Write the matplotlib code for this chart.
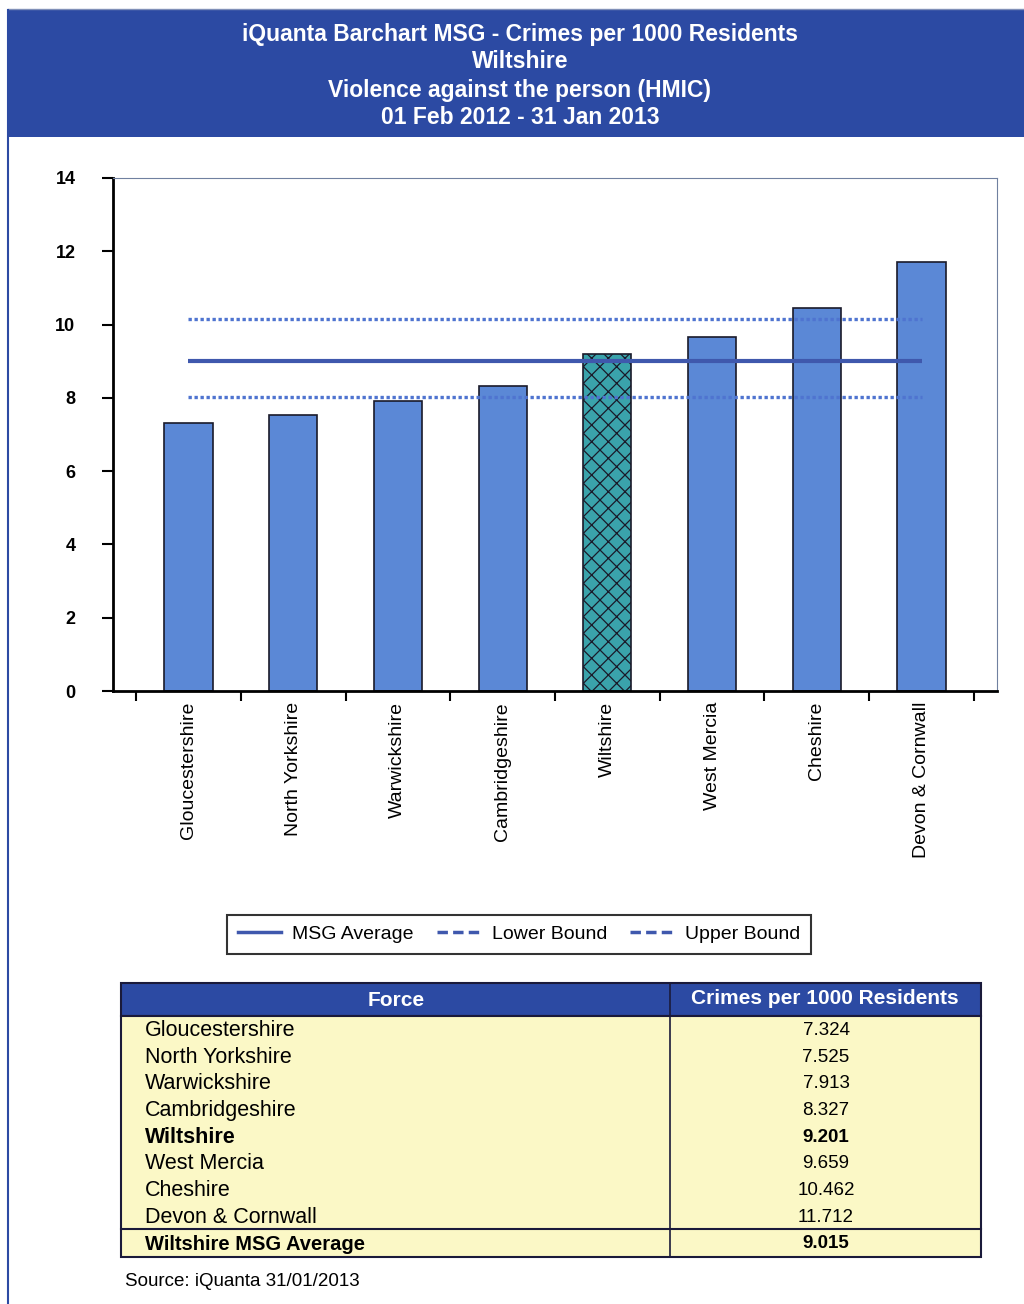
import matplotlib.pyplot as plt
from matplotlib.patches import Rectangle
from matplotlib.lines import Line2D

# Data
forces = ['Gloucestershire', 'North Yorkshire', 'Warwickshire', 'Cambridgeshire',
          'Wiltshire', 'West Mercia', 'Cheshire', 'Devon & Cornwall']
rates = [7.324, 7.525, 7.913, 8.327, 9.201, 9.659, 10.462, 11.712]
msg_average = 9.015
lower_bound = 8.03
upper_bound = 10.15
highlight = 'Wiltshire'
title_lines = ['iQuanta Barchart MSG - Crimes per 1000 Residents', 'Wiltshire',
               'Violence against the person (HMIC)', '01 Feb 2012 - 31 Jan 2013']
y_ticks = [0, 2, 4, 6, 8, 10, 12, 14]

plt.rcParams['font.family'] = ['Liberation Sans', 'DejaVu Sans']
plt.rcParams['hatch.linewidth'] = 0.9

W, H = 1024, 1304
fig = plt.figure(figsize=(W / 100, H / 100), dpi=100)

# overlay axes in pixel coordinates for decorations and the table
deco = fig.add_axes([0, 0, 1, 1])
deco.set_xlim(0, W)
deco.set_ylim(H, 0)
deco.axis('off')

# header band
deco.add_patch(Rectangle((8, 10), W - 8, 127, facecolor='#2c4aa3', edgecolor='none'))
deco.plot([8, W], [9, 9], color='#8090b8', lw=1)
deco.plot([8, 8], [10, H], color='#2c4aa3', lw=1.5)
for i, line in enumerate(title_lines):
    deco.text(520, 34 + i * 28, line, color='white', fontsize=16.5, fontweight='bold',
              ha='center', va='center')

# bar chart
ax = fig.add_axes([113 / W, 1 - 691 / H, 884 / W, 513 / H])
x = list(range(len(forces)))
colors = ['#3aa3ab' if f == highlight else '#5b88d6' for f in forces]
bars = ax.bar(x, rates, width=0.46, color=colors, edgecolor='#1a1a2a', linewidth=1.2)
for b, f in zip(bars, forces):
    if f == highlight:
        b.set_hatch('xx')

ax.plot([x[0], x[-1]], [msg_average] * 2, color='#3f58ad', lw=3, solid_capstyle='butt')
ax.plot([x[0], x[-1]], [lower_bound] * 2, color='#4f74d0', lw=2.4, linestyle=(0, (1, 0.8)))
ax.plot([x[0], x[-1]], [upper_bound] * 2, color='#4f74d0', lw=2.4, linestyle=(0, (1, 0.8)))

ax.set_xlim(-0.72, len(forces) - 1 + 0.72)
ax.set_ylim(0, 14)
ax.set_yticks(y_ticks)
ax.set_yticklabels([str(t) for t in y_ticks], fontsize=13, fontweight='bold')
ax.tick_params(axis='y', direction='out', length=8, width=1.5, pad=19)

# category ticks at boundaries, labels at centres
ax.set_xticks([i - 0.5 for i in range(len(forces) + 1)])
ax.set_xticklabels([])
ax.tick_params(axis='x', direction='out', length=7, width=1.5)
for i, f in enumerate(forces):
    ax.text(i, -0.3, f, rotation=90, ha='center', va='top', fontsize=14)

for s in ['left', 'bottom']:
    ax.spines[s].set_linewidth(2)
    ax.spines[s].set_color('black')
for s in ['top', 'right']:
    ax.spines[s].set_linewidth(0.8)
    ax.spines[s].set_color('#7080a0')

# legend
handles = [Line2D([], [], color='#3f58ad', lw=2.5),
           Line2D([], [], color='#3f58ad', lw=2.5, linestyle=(0, (3, 1.5))),
           Line2D([], [], color='#3f58ad', lw=2.5, linestyle=(0, (3, 1.5)))]
leg = fig.legend(handles, ['MSG Average', 'Lower Bound', 'Upper Bound'], ncol=3,
                 loc='center', bbox_to_anchor=(519 / W, 1 - 934 / H), fontsize=14,
                 frameon=True, fancybox=False, handlelength=2.2, columnspacing=1.2,
                 handletextpad=0.6, borderpad=0.55)
leg.get_frame().set_edgecolor('black')
leg.get_frame().set_linewidth(1.5)

# table
tx0, tx1, tsplit = 121, 981, 670
ty_head, ty_body, ty_avg, ty_end = 983, 1016, 1229, 1257
deco.add_patch(Rectangle((tx0, ty_head), tx1 - tx0, ty_body - ty_head,
                         facecolor='#2c4aa3', edgecolor='#1a1a3a', lw=1.5))
deco.add_patch(Rectangle((tx0, ty_body), tx1 - tx0, ty_end - ty_body,
                         facecolor='#fbf8c6', edgecolor='#1a1a3a', lw=1.5))
deco.plot([tsplit, tsplit], [ty_head, ty_end], color='#1a1a3a', lw=1.2)
deco.plot([tx0, tx1], [ty_avg, ty_avg], color='#1a1a3a', lw=1.5)
deco.text(396, 1000, 'Force', color='white', fontsize=15, fontweight='bold',
          ha='center', va='center')
deco.text(825, 999, 'Crimes per 1000 Residents', color='white', fontsize=15,
          fontweight='bold', ha='center', va='center')
row_h = (ty_avg - ty_body) / len(forces)
for i, (f, r) in enumerate(zip(forces, rates)):
    yc = ty_body + row_h * (i + 0.55)
    weight = 'bold' if f == highlight else 'normal'
    deco.text(145, yc, f, fontsize=15.5, fontweight=weight, ha='left', va='center')
    deco.text(826, yc, f'{r:.3f}', fontsize=13.5, fontweight=weight, ha='center', va='center')
deco.text(145, 1244, 'Wiltshire MSG Average', fontsize=14.5, fontweight='bold',
          ha='left', va='center')
deco.text(826, 1243, f'{msg_average:.3f}', fontsize=13.5, fontweight='bold',
          ha='center', va='center')

deco.text(125, 1281, 'Source: iQuanta 31/01/2013', fontsize=13.5, ha='left', va='center')

fig.savefig('out.png', dpi=100)
